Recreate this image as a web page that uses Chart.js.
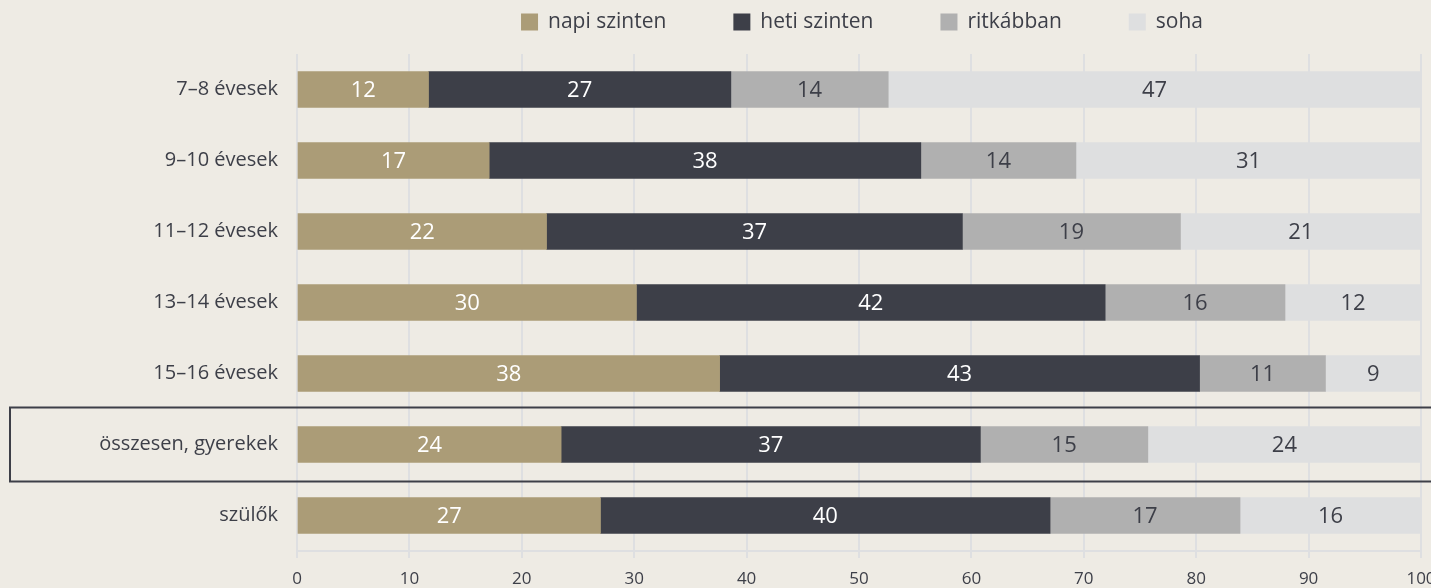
<!DOCTYPE html>
<html>
<head>
<meta charset="utf-8">
<script src="https://cdn.jsdelivr.net/npm/chart.js@4"></script>
<style>
html,body{margin:0;padding:0;background:#EEEBE4;}
#wrap{position:relative;width:1431px;height:588px;}
</style>
</head>
<body>
<div id="wrap"><canvas id="c" width="1431" height="588"></canvas></div>
<script>
const categories = ['7–8 évesek','9–10 évesek','11–12 évesek','13–14 évesek','15–16 évesek','összesen, gyerekek','szülők'];
const seriesNames = ['napi szinten','heti szinten','ritkábban','soha'];
const napi   = [11.7, 17.1, 22.2, 30.2, 37.6, 23.5, 27.0];
const heti   = [26.9, 38.4, 37.0, 41.7, 42.7, 37.3, 40.0];
const ritkan = [14.0, 13.8, 19.4, 16.0, 11.2, 14.9, 16.9];
const soha   = [47.4, 30.7, 21.4, 12.1, 8.5, 24.3, 16.1];
const xTicks = [0,10,20,30,40,50,60,70,80,90,100];

const colors = ['#AB9C77','#3D3F48','#B0B0B0','#DEDFE0'];
const labelColors = ['#FFFFFF','#FFFFFF','#3D3F48','#3D3F48'];
const FONT = "'Open Sans', 'Noto Sans', sans-serif";
const TEXT = '#3D3F48';

const dataLabels = {
  id:'dataLabels',
  afterDatasetsDraw(chart){
    const ctx = chart.ctx;
    ctx.save();
    ctx.font = '22px ' + FONT;
    ctx.textAlign = 'center';
    ctx.textBaseline = 'middle';
    chart.data.datasets.forEach((ds, di) => {
      const meta = chart.getDatasetMeta(di);
      meta.data.forEach((el, i) => {
        const x = (el.x + el.base) / 2;
        ctx.fillStyle = labelColors[di];
        ctx.fillText(String(Math.round(ds.data[i])), x, el.y + 1);
      });
    });
    ctx.restore();
  }
};

const highlight = {
  id:'highlight',
  afterDraw(chart){
    const y = chart.scales.y.getPixelForValue(5);
    const ctx = chart.ctx;
    ctx.save();
    ctx.strokeStyle = '#3D3F48';
    ctx.lineWidth = 2;
    ctx.strokeRect(10, y - 37, 1440, 74);
    ctx.restore();
  }
};

const legendPlugin = {
  id:'customLegend',
  afterDraw(chart){
    const ctx = chart.ctx;
    ctx.save();
    ctx.font = '21px ' + FONT;
    ctx.textBaseline = 'middle';
    const box = 17, gapText = 10, gapItem = 67;
    const widths = seriesNames.map(n => box + gapText + ctx.measureText(n).width);
    const total = widths.reduce((a,b)=>a+b,0) + gapItem*(seriesNames.length-1);
    const ca = chart.chartArea;
    let x = (ca.left + ca.right)/2 + 3 - total/2;
    const yc = 22;
    seriesNames.forEach((n, i) => {
      ctx.fillStyle = colors[i];
      ctx.fillRect(x, yc - box/2, box, box);
      ctx.fillStyle = TEXT;
      ctx.fillText(n, x + box + gapText, yc);
      x += widths[i] + gapItem;
    });
    ctx.restore();
  }
};

const seriesData = [napi, heti, ritkan, soha];
new Chart(document.getElementById('c'), {
  type:'bar',
  data:{
    labels: categories,
    datasets: seriesNames.map((n, i) => ({
      label:n, data:seriesData[i], backgroundColor:colors[i], borderWidth:0,
      barThickness:36
    }))
  },
  options:{
    indexAxis:'y',
    responsive:false,
    animation:false,
    layout:{padding:{top:54, right:10, left:0, bottom:0}},
    plugins:{legend:{display:false}, tooltip:{enabled:false}},
    scales:{
      x:{
        stacked:true, min:0, max:100,
        afterBuildTicks(s){ s.ticks = xTicks.map(v=>({value:v})); },
        afterFit(s){ s.height = 37; s.paddingRight = 0; s.paddingLeft = 0; },
        grid:{color:'#DEDFE1', lineWidth:2, tickLength:7, drawTicks:true},
        border:{display:true, color:'#DEDFE1', width:2},
        ticks:{font:{family:FONT, size:17}, color:TEXT, padding:11, maxRotation:0}
      },
      y:{
        stacked:true,
        afterFit(s){ s.width = 297; },
        grid:{display:false, drawTicks:false},
        border:{display:false},
        ticks:{font:{family:FONT, size:20}, color:TEXT, padding:19}
      }
    }
  },
  plugins:[dataLabels, highlight, legendPlugin]
});
</script>
</body>
</html>
